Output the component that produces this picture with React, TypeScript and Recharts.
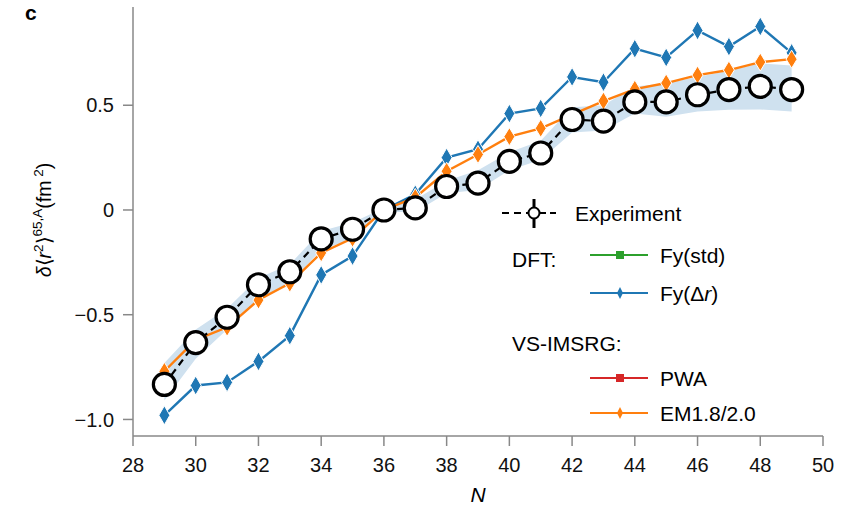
import React from "react";
import { ComposedChart, Line, Area, XAxis, YAxis } from "recharts";

// neutron number
const nValues = [29, 30, 31, 32, 33, 34, 35, 36, 37, 38, 39, 40, 41, 42, 43, 44, 45, 46, 47, 48, 49];

// experimental δ<r²> (fm²)
const experiment = [
  -0.833, -0.633, -0.512, -0.357, -0.295, -0.138, -0.092, 0, 0.01, 0.112, 0.128,
  0.232, 0.272, 0.432, 0.424, 0.516, 0.516, 0.55, 0.575, 0.59, 0.575,
];

// DFT Fy(Δr)
const fyDeltaR = [
  -0.98, -0.838, -0.823, -0.723, -0.6, -0.31, -0.22, 0, 0.075, 0.25, 0.29,
  0.46, 0.485, 0.635, 0.61, 0.77, 0.728, 0.857, 0.78, 0.876, 0.75,
];

// VS-IMSRG EM1.8/2.0
const em1820 = [
  -0.77, -0.62, -0.56, -0.43, -0.35, -0.205, -0.135, 0, 0.06, 0.185, 0.265,
  0.35, 0.39, 0.455, 0.52, 0.577, 0.606, 0.644, 0.668, 0.706, 0.72,
];

// shaded band (lower / upper)
const bandLow = [
  -0.91, -0.71, -0.57, -0.43, -0.35, -0.19, -0.14, -0.01, -0.01, 0.08, 0.095,
  0.19, 0.24, 0.37, 0.38, 0.46, 0.445, 0.47, 0.478, 0.48, 0.47,
];
const bandHigh = [
  -0.73, -0.57, -0.47, -0.325, -0.26, -0.1, -0.06, 0.01, 0.05, 0.14, 0.19,
  0.275, 0.33, 0.49, 0.5, 0.59, 0.605, 0.635, 0.665, 0.7, 0.69,
];

const xTicks = [28, 30, 32, 34, 36, 38, 40, 42, 44, 46, 48, 50];
const yTicks = [-1, -0.5, 0, 0.5];
const yTickLabels: Record<string, string> = { "-1": "\u22121.0", "-0.5": "\u22120.5", "0": "0", "0.5": "0.5" };

const BLUE = "#1f77b4";
const ORANGE = "#ff7f0e";
const GREEN = "#2ca02c";
const RED = "#d62728";
const AXIS = "#888";
const FONT = "'Liberation Sans', Arial, Helvetica, sans-serif";

const data = nValues.map((n, i) => ({
  N: n,
  exp: experiment[i],
  fy: fyDeltaR[i],
  em: em1820[i],
  band: [bandLow[i], bandHigh[i]],
}));

const diamond = (color: string, w: number, h: number) => (props: any) => {
  const { cx, cy, index } = props;
  if (cx == null || cy == null) return <g key={index} />;
  return (
    <polygon
      key={index}
      points={`${cx},${cy - h} ${cx + w},${cy} ${cx},${cy + h} ${cx - w},${cy}`}
      fill={color}
      stroke="#fff"
      strokeWidth={1}
    />
  );
};

const expDot = (props: any) => {
  const { cx, cy, index } = props;
  if (cx == null || cy == null) return <g key={index} />;
  return <circle key={index} cx={cx} cy={cy} r={11} fill="#fff" stroke="#000" strokeWidth={3.2} />;
};

const Overlay = () => (
  <svg
    width={846}
    height={508}
    style={{ position: "absolute", left: 0, top: 0, pointerEvents: "none" }}
    fontFamily={FONT}
  >
    <text x={25} y={20} fontSize={21} fontWeight="bold" fill="#000">c</text>
    <text x={478} y={502} fontSize={21} fontStyle="italic" textAnchor="middle" fill="#000">N</text>
    <text
      transform="translate(51,220) rotate(-90)"
      textAnchor="middle"
      fontSize={19.5}
      fill="#000"
    >
      <tspan fontStyle="italic">δ</tspan>
      <tspan>⟨</tspan>
      <tspan fontStyle="italic">r</tspan>
      <tspan fontSize={13.5} dy={-8}>2</tspan>
      <tspan dy={8}>⟩</tspan>
      <tspan fontSize={13.5} dy={-9}>65,A</tspan>
      <tspan dy={9}>(fm</tspan>
      <tspan fontSize={13.5} dy={-8}> 2</tspan>
      <tspan dy={8}>)</tspan>
    </text>

    {/* legend */}
    <g>
      <line x1={502} x2={528} y1={213} y2={213} stroke="#000" strokeWidth={2} strokeDasharray="7 5" />
      <line x1={540} x2={560} y1={213} y2={213} stroke="#000" strokeWidth={2} strokeDasharray="6 4" />
      <line x1={534} x2={534} y1={199} y2={228} stroke="#000" strokeWidth={3} />
      <circle cx={534} cy={213} r={5.5} fill="#fff" stroke="#000" strokeWidth={2} />
      <text x={575} y={220.5} fontSize={21} fill="#000">Experiment</text>

      <text x={512} y={267} fontSize={21} fill="#000">DFT:</text>
      <line x1={590} x2={648} y1={255} y2={255} stroke={GREEN} strokeWidth={2} />
      <rect x={616} y={251} width={8} height={8} fill={GREEN} />
      <text x={660} y={262.5} fontSize={21} fill="#000">Fy(std)</text>

      <line x1={590} x2={648} y1={293} y2={293} stroke={BLUE} strokeWidth={2} />
      <polygon points="620,287 623,293 620,299 617,293" fill={BLUE} />
      <text x={660} y={300.5} fontSize={21} fill="#000">
        Fy(Δ<tspan fontStyle="italic">r</tspan>)
      </text>

      <text x={512} y={350.5} fontSize={21} fill="#000">VS-IMSRG:</text>
      <line x1={590} x2={648} y1={378} y2={378} stroke={RED} strokeWidth={2} />
      <rect x={616} y={374} width={8} height={8} fill={RED} />
      <text x={660} y={385.5} fontSize={21} fill="#000">PWA</text>

      <line x1={590} x2={648} y1={413} y2={413} stroke={ORANGE} strokeWidth={2} />
      <polygon points="620,407 623,413 620,419 617,413" fill={ORANGE} />
      <text x={660} y={420.5} fontSize={21} fill="#000">EM1.8/2.0</text>
    </g>
  </svg>
);

export default function App() {
  const tickStyle = { fill: "#111", fontSize: 20, fontFamily: FONT };
  return (
    <div style={{ position: "relative", width: 846, height: 508, background: "#fff" }}>
      <style>{"body{margin:0}"}</style>
      <ComposedChart
        width={846}
        height={508}
        data={data}
        margin={{ top: 7, right: 23, left: 0, bottom: 0 }}
      >
        <XAxis
          dataKey="N"
          type="number"
          domain={[28, 50]}
          ticks={xTicks}
          interval={0}
          height={72}
          tick={tickStyle}
          tickSize={10}
          tickMargin={12}
          axisLine={{ stroke: AXIS, strokeWidth: 1.5 }}
          tickLine={{ stroke: AXIS, strokeWidth: 1.5 }}
        />
        <XAxis
          xAxisId="top"
          dataKey="N"
          type="number"
          orientation="top"
          mirror
          domain={[28, 50]}
          ticks={xTicks}
          interval={0}
          height={0}
          tick={false}
          tickSize={9}
          axisLine={false}
          tickLine={{ stroke: AXIS, strokeWidth: 1.5 }}
        />
        <YAxis
          type="number"
          domain={[-1.079, 0.969]}
          allowDataOverflow
          ticks={yTicks}
          interval={0}
          width={133}
          tick={tickStyle}
          tickFormatter={(v: number) => yTickLabels[String(v)] ?? String(v)}
          tickSize={10}
          tickMargin={9}
          axisLine={{ stroke: AXIS, strokeWidth: 1.5 }}
          tickLine={{ stroke: AXIS, strokeWidth: 1.5 }}
        />
        <YAxis
          yAxisId="right"
          orientation="right"
          width={0}
          domain={[0, 1]}
          tick={false}
          tickLine={false}
          axisLine={{ stroke: AXIS, strokeWidth: 1.5 }}
        />
        <Area
          dataKey="band"
          type="linear"
          fill="#cfe1ef"
          fillOpacity={1}
          stroke="none"
          isAnimationActive={false}
          activeDot={false}
        />
        <Line
          dataKey="fy"
          type="linear"
          stroke={BLUE}
          strokeWidth={2.4}
          dot={diamond(BLUE, 5.5, 9.5)}
          activeDot={false}
          isAnimationActive={false}
        />
        <Line
          dataKey="em"
          type="linear"
          stroke={ORANGE}
          strokeWidth={2.4}
          dot={diamond(ORANGE, 5.5, 9)}
          activeDot={false}
          isAnimationActive={false}
        />
        <Line
          dataKey="exp"
          type="linear"
          stroke="#000"
          strokeWidth={2.2}
          strokeDasharray="7 5"
          dot={expDot}
          activeDot={false}
          isAnimationActive={false}
        />
      </ComposedChart>
      <Overlay />
    </div>
  );
}
